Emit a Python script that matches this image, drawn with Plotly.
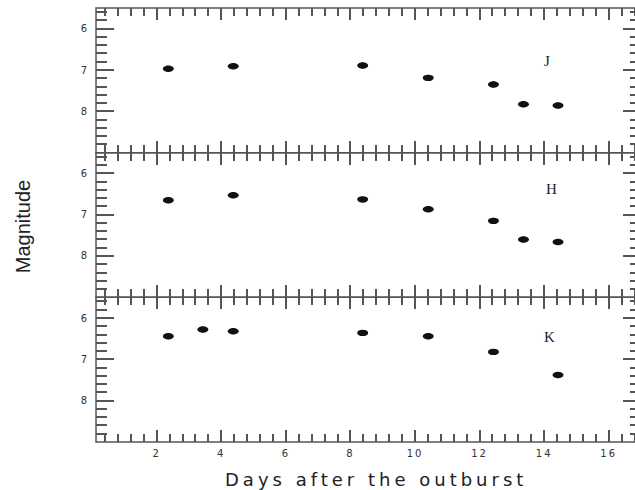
import numpy as np
import plotly.graph_objects as go
from plotly.subplots import make_subplots

# ---- data ----
days_J = [2.36, 4.37, 8.38, 10.41, 12.43, 13.36, 14.43]
mag_J = [6.97, 6.91, 6.89, 7.19, 7.35, 7.83, 7.86]
days_H = [2.36, 4.37, 8.38, 10.41, 12.43, 13.36, 14.43]
mag_H = [6.65, 6.53, 6.63, 6.87, 7.15, 7.60, 7.66]
days_K = [2.36, 3.43, 4.37, 8.38, 10.41, 12.43, 14.43]
mag_K = [6.44, 6.28, 6.32, 6.36, 6.44, 6.82, 7.38]
band_names = ["J", "H", "K"]
band_label_x = [14.09, 14.23, 14.18]
band_label_y = [6.79, 6.38, 6.47]
x_tick_vals = [2, 4, 6, 8, 10, 12, 14, 16]
y_tick_vals = [6, 7, 8]

series = [(days_J, mag_J), (days_H, mag_H), (days_K, mag_K)]

W, H = 645, 490
fig = make_subplots(rows=3, cols=1, shared_xaxes=True, vertical_spacing=0)

AXC = "#555555"
XR = [0.12, 17.0]
YR = [9.0, 5.5]
hx = 0.17
hy = 0.078

shapes = []
for i, (xs, ys) in enumerate(series):
    r = i + 1
    sfx = "" if r == 1 else str(r)
    fig.add_trace(go.Scatter(x=xs, y=ys, mode="markers", name=band_names[i],
                             marker=dict(color="#111111", size=6),
                             showlegend=False, hoverinfo="x+y"), row=r, col=1)
    shapes.append(dict(type="rect", xref="x" + sfx + " domain", yref="y" + sfx + " domain",
                       x0=0, x1=1, y0=0, y1=1, line=dict(color=AXC, width=1.5),
                       fillcolor="rgba(0,0,0,0)", layer="above"))
    for xv, yv in zip(xs, ys):
        shapes.append(dict(type="circle", xref="x" + sfx, yref="y" + sfx,
                           x0=xv - hx, x1=xv + hx, y0=yv - hy, y1=yv + hy,
                           fillcolor="#111111", line=dict(width=0), layer="above"))
    fig.add_annotation(x=band_label_x[i], y=band_label_y[i], xref="x" + sfx, yref="y" + sfx,
                       text=band_names[i], showarrow=False,
                       font=dict(family="Liberation Serif", size=15, color="#222222"))

for r in range(1, 4):
    fig.update_xaxes(row=r, col=1, range=XR, tickmode="array", tickvals=x_tick_vals,
                     ticks="inside", ticklen=12, tickwidth=1.5, tickcolor=AXC,
                     showline=False, mirror="ticks",
                     showgrid=False, zeroline=False,
                     minor=dict(ticks="inside", ticklen=8, tickwidth=1.5, tickcolor=AXC,
                                tickmode="linear", tick0=0, dtick=0.4, showgrid=False),
                     showticklabels=(r == 3),
                     tickfont=dict(family="DejaVu Sans", size=10, color="#333333"),
                     ticklabelstandoff=4)
    fig.update_yaxes(row=r, col=1, range=YR, tickmode="array", tickvals=y_tick_vals,
                     ticks="inside", ticklen=18, tickwidth=1.5, tickcolor=AXC,
                     showline=False, mirror="ticks",
                     showgrid=False, zeroline=False,
                     minor=dict(ticks="inside", ticklen=11, tickwidth=1.5, tickcolor=AXC,
                                tickmode="linear", tick0=0, dtick=0.2, showgrid=False),
                     tickfont=dict(family="DejaVu Sans", size=10, color="#333333"),
                     ticklabelstandoff=8)

L, R, T, B = 96, 4, 8, 48
pw = W - L - R
ph = H - T - B
fig.add_annotation(text="Days after the outburst", xref="paper", yref="paper",
                   x=(376 - L) / pw, y=-(467 - (H - B)) / ph, xanchor="center", yanchor="top",
                   showarrow=False,
                   font=dict(family="DejaVu Sans", size=18, color="#222222"))
fig.add_annotation(text="Magnitude", xref="paper", yref="paper",
                   x=(22.5 - L) / pw, y=0.5 + (225 - 226.7) / ph, xanchor="center", yanchor="middle",
                   textangle=-90, showarrow=False,
                   font=dict(family="Liberation Sans", size=20, color="#222222"))

fig.update_layout(width=W, height=H, margin=dict(l=L, r=R, t=T, b=B),
                  paper_bgcolor="white", plot_bgcolor="white", shapes=shapes,
                  showlegend=False)

post = """
document.body.style.margin='0';
document.body.style.padding='0';
document.body.style.overflow='hidden';
document.documentElement.style.overflow='hidden';
var gd = document.getElementById('{plot_id}');
gd.querySelectorAll('.annotation-text').forEach(function(t){
  if (t.textContent.indexOf('Days') === 0) { t.style.letterSpacing = '4px'; }
});
gd.querySelectorAll('.x3tick text').forEach(function(t){ t.style.letterSpacing = '2px'; });
"""
fig.write_html("out.html", post_script=post, config={"displayModeBar": False})
